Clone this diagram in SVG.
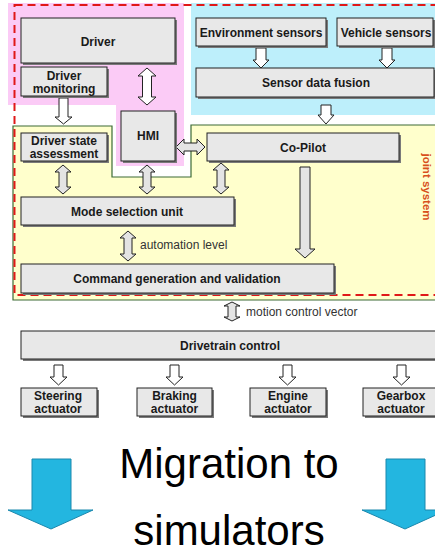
<svg xmlns="http://www.w3.org/2000/svg" width="435" height="555" viewBox="0 0 435 555">
  <style>
    .box { fill: #e8e8e8; stroke: #222; stroke-width: 1; }
    .shadow { fill: #7a7a7a; }
    .lbl { font-family: "Liberation Sans", Arial, sans-serif; font-weight: bold; font-size: 12px; fill: #1a1a1a; text-anchor: middle; }
    .note { font-family: "Liberation Sans", Arial, sans-serif; font-size: 12px; fill: #333; }
    .arrow-w { fill: #ffffff; stroke: #222; stroke-width: 1; stroke-linejoin: miter; }
    .arrow-g { fill: #e4e4e4; stroke: #222; stroke-width: 1; stroke-linejoin: miter; }
    .big { fill: #23b6e0; stroke: #1b88ad; stroke-width: 1; }
    .title { font-family: "Liberation Sans", Arial, sans-serif; font-size: 42px; fill: #000; text-anchor: middle; }
  </style>

  <rect width="435" height="555" fill="#ffffff"/>

  <!-- background zones -->
  <g id="zones">
    <path d="M8,3 H184 V166 H116 V105 H8 Z" fill="#fbcbf6"/>
    <rect x="191" y="3" width="250" height="112" fill="#bdeffb"/>
    <path d="M13,126 H112 V177 H191 V125 H445 V300 H13 Z" fill="#ffffcc" stroke="#3d6b35" stroke-width="1.2"/>
    <rect x="14.5" y="5" width="426" height="290" fill="none" stroke="#e01818" stroke-width="2" stroke-dasharray="8,5"/>
    <text transform="translate(423,187) rotate(90)" font-family="Liberation Sans, Arial, sans-serif" font-weight="bold" font-size="11.5" fill="#d8501c" text-anchor="middle">joint system</text>
  </g>

  <!-- connectors -->
  <g id="connectors">
    <!-- Driver <-> HMI -->
    <path class="arrow-w" d="M147,68 L156,76 L151.5,76 L151.5,97 L156,97 L147,105 L138,97 L142.5,97 L142.5,76 L138,76 Z"/>
    <!-- Driver monitoring -> Driver state assessment -->
    <path class="arrow-w" d="M59,98 H68 V117 H72 L63.5,124 L55,117 H59 Z"/>
    <!-- Environment sensors -> Sensor data fusion -->
    <path class="arrow-w" d="M256,48 H266 V60 H269 L261,68 L253,60 H256 Z"/>
    <!-- Vehicle sensors -> Sensor data fusion -->
    <path class="arrow-w" d="M382,48 H392 V60 H395 L387,68 L379,60 H382 Z"/>
    <!-- Sensor data fusion -> Co-Pilot -->
    <path class="arrow-w" d="M321,105 H331 V115 H334 L326,124 L318,115 H321 Z"/>
    <!-- HMI <-> Co-Pilot -->
    <path class="arrow-g" d="M176,147 L184,139 L184,143 L197,143 L197,139 L205,147 L197,155 L197,151 L184,151 L184,155 Z"/>
    <!-- Driver state assessment <-> Mode selection unit -->
    <path class="arrow-g" d="M63,165 L71,172 L67,172 L67,187 L71,187 L63,194 L55,187 L59,187 L59,172 L55,172 Z"/>
    <!-- HMI <-> Mode selection unit -->
    <path class="arrow-g" d="M147,165 L155,172 L151,172 L151,187 L155,187 L147,194 L139,187 L143,187 L143,172 L139,172 Z"/>
    <!-- Co-Pilot <-> Mode selection unit -->
    <path class="arrow-g" d="M221,163 L229,170 L225,170 L225,187 L229,187 L221,194 L213,187 L217,187 L217,170 L213,170 Z"/>
    <!-- Co-Pilot -> Command generation -->
    <path class="arrow-g" d="M300,167 H310 V249 H315 L305,258 L295,249 H300 Z"/>
    <!-- automation level -->
    <path class="arrow-g" d="M128,231 L136,238 L132,238 L132,254 L136,254 L128,261 L120,254 L124,254 L124,238 L120,238 Z"/>
    <text class="note" x="140" y="249">automation level</text>
    <!-- motion control vector -->
    <path class="arrow-g" d="M232,302 L240,306 L236,306 L236,317 L240,317 L232,321 L224,317 L228,317 L228,306 L224,306 Z"/>
    <text class="note" x="246" y="316">motion control vector</text>
    <!-- Drivetrain control -> actuators -->
    <path class="arrow-w" d="M54,365 H63 V377 H67 L58.5,385 L50,377 H54 Z"/>
    <path class="arrow-w" d="M170,365 H179 V377 H183 L174.5,385 L166,377 H170 Z"/>
    <path class="arrow-w" d="M283,365 H292 V377 H296 L287.5,385 L279,377 H283 Z"/>
    <path class="arrow-w" d="M397,365 H406 V377 H410 L401.5,385 L393,377 H397 Z"/>
  </g>

  <!-- nodes -->
  <g id="driver">
    <rect class="shadow" x="23" y="20" width="154" height="45"/>
    <rect class="box" x="21" y="18" width="154" height="45"/>
    <text class="lbl" x="98" y="46" font-size="15">Driver</text>
  </g>
  <g id="driver-monitoring">
    <rect class="shadow" x="23" y="69" width="86" height="29"/>
    <rect class="box" x="21" y="67" width="86" height="29"/>
    <text class="lbl" x="64" y="79.5">Driver</text>
    <text class="lbl" x="64" y="92.5">monitoring</text>
  </g>
  <g id="hmi">
    <rect class="shadow" x="123" y="113" width="54" height="50"/>
    <rect class="box" x="121" y="111" width="54" height="50"/>
    <text class="lbl" x="148" y="140">HMI</text>
  </g>
  <g id="environment-sensors">
    <rect class="shadow" x="198" y="20" width="130" height="28"/>
    <rect class="box" x="196" y="18" width="130" height="28"/>
    <text class="lbl" x="261" y="36.5">Environment sensors</text>
  </g>
  <g id="vehicle-sensors">
    <rect class="shadow" x="339" y="20" width="96" height="28"/>
    <rect class="box" x="337" y="18" width="96" height="28"/>
    <text class="lbl" x="386" y="36.5">Vehicle sensors</text>
  </g>
  <g id="sensor-data-fusion">
    <rect class="shadow" x="198" y="70" width="240" height="29"/>
    <rect class="box" x="196" y="68" width="238" height="29"/>
    <text class="lbl" x="316" y="87">Sensor data fusion</text>
  </g>
  <g id="driver-state-assessment">
    <rect class="shadow" x="23" y="135" width="86" height="28"/>
    <rect class="box" x="21" y="133" width="86" height="28"/>
    <text class="lbl" x="64" y="144.5">Driver state</text>
    <text class="lbl" x="64" y="158">assessment</text>
  </g>
  <g id="co-pilot">
    <rect class="shadow" x="209" y="135" width="192" height="28"/>
    <rect class="box" x="207" y="133" width="192" height="28"/>
    <text class="lbl" x="303" y="152">Co-Pilot</text>
  </g>
  <g id="mode-selection-unit">
    <rect class="shadow" x="23" y="199" width="213" height="28"/>
    <rect class="box" x="21" y="197" width="213" height="28"/>
    <text class="lbl" x="127" y="216">Mode selection unit</text>
  </g>
  <g id="command-generation">
    <rect class="shadow" x="23" y="266" width="313" height="29"/>
    <rect class="box" x="21" y="264" width="313" height="29"/>
    <text class="lbl" x="177" y="283">Command generation and validation</text>
  </g>
  <g id="drivetrain-control">
    <rect class="shadow" x="23" y="333" width="420" height="28"/>
    <rect class="box" x="21" y="331" width="420" height="28"/>
    <text class="lbl" x="230" y="350">Drivetrain control</text>
  </g>
  <g id="steering-actuator">
    <rect class="shadow" x="23" y="390" width="76" height="28"/>
    <rect class="box" x="21" y="388" width="76" height="28"/>
    <text class="lbl" x="58" y="399.5">Steering</text>
    <text class="lbl" x="58" y="413">actuator</text>
  </g>
  <g id="braking-actuator">
    <rect class="shadow" x="139" y="390" width="75" height="28"/>
    <rect class="box" x="137" y="388" width="75" height="28"/>
    <text class="lbl" x="174.5" y="399.5">Braking</text>
    <text class="lbl" x="174.5" y="413">actuator</text>
  </g>
  <g id="engine-actuator">
    <rect class="shadow" x="252" y="390" width="76" height="28"/>
    <rect class="box" x="250" y="388" width="76" height="28"/>
    <text class="lbl" x="288" y="399.5">Engine</text>
    <text class="lbl" x="288" y="413">actuator</text>
  </g>
  <g id="gearbox-actuator">
    <rect class="shadow" x="365" y="390" width="76" height="28"/>
    <rect class="box" x="363" y="388" width="76" height="28"/>
    <text class="lbl" x="401" y="399.5">Gearbox</text>
    <text class="lbl" x="401" y="413">actuator</text>
  </g>

  <!-- migration banner -->
  <g id="migration">
    <path class="big" d="M32,459 H71 V510 H93 L51,529 L8,510 H32 Z"/>
    <path class="big" d="M386,459 H425 V510 H447 L405,529 L362,510 H386 Z"/>
    <text class="title" x="229" y="478">Migration to</text>
    <text class="title" x="229" y="545">simulators</text>
  </g>
</svg>
